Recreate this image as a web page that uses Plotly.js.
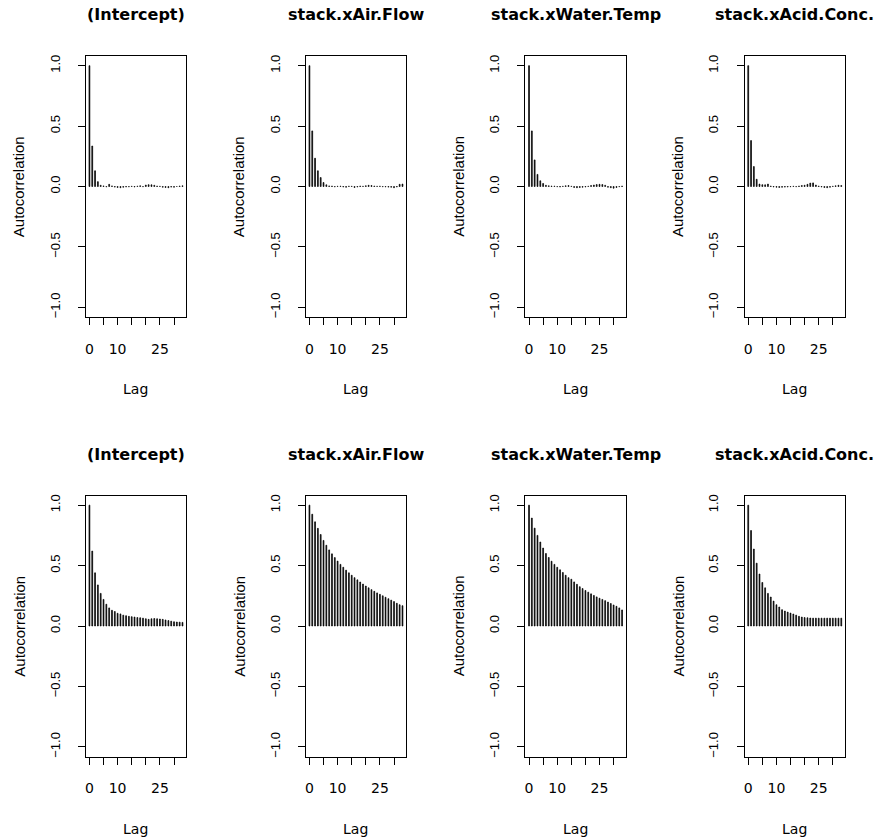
<!DOCTYPE html>
<html><head><meta charset="utf-8">
<script src="https://cdn.plot.ly/plotly-3.0.1.min.js"></script>
<style>body{margin:0;background:#fff}</style>
</head><body><div id="chart" style="width:887px;height:839px"></div>
<script>
const lags = [0,1,2,3,4,5,6,7,8,9,10,11,12,13,14,15,16,17,18,19,20,21,22,23,24,25,26,27,28,29,30,31,32,33];
const panelTitles = ["(Intercept)","stack.xAir.Flow","stack.xWater.Temp","stack.xAcid.Conc."];
const xTickVals = [0,5,10,15,20,25,30];
const xTickText = ["0","","10","","","25",""];
const yTickVals = [-1,-0.5,0,0.5,1];
const yTickText = ["\u22121.0","\u22120.5","0.0","0.5","1.0"];

// Row 1
const acfTopIntercept = [1.0,0.335,0.13,0.04,0.01,0.005,-0.003,0.018,0.005,-0.005,-0.008,-0.01,-0.006,-0.004,-0.003,0.002,-0.004,0.003,0.006,-0.002,0.012,0.015,0.014,0.01,0.004,0.002,-0.006,-0.008,-0.01,-0.005,-0.006,0.0,0.004,0.006];
const acfTopAirFlow = [1.0,0.46,0.234,0.13,0.074,0.033,0.014,0.005,0.004,-0.003,0.002,0.003,-0.004,-0.006,0.003,0.002,-0.008,-0.004,0.004,0.002,0.006,0.01,0.008,0.004,0.002,0.003,-0.002,-0.003,-0.005,-0.006,-0.01,-0.004,0.018,0.02];
const acfTopWaterTemp = [1.0,0.46,0.22,0.10,0.047,0.025,0.01,0.006,0.004,0.003,-0.002,-0.004,0.002,0.006,0.008,0.002,-0.008,-0.01,-0.008,-0.006,-0.004,0.002,0.008,0.012,0.016,0.018,0.016,0.01,-0.006,-0.01,-0.014,-0.008,-0.002,0.004];
const acfTopAcidConc = [1.0,0.38,0.165,0.06,0.02,0.015,0.014,0.02,0.004,-0.004,-0.006,-0.008,-0.006,-0.005,-0.004,-0.002,0.002,-0.002,0.004,0.008,0.01,0.018,0.028,0.03,0.012,0.004,-0.004,-0.008,-0.01,-0.006,0.002,0.006,0.01,0.008];
// Row 2
const acfBotIntercept = [1.0,0.62,0.44,0.34,0.27,0.22,0.18,0.15,0.13,0.12,0.105,0.1,0.09,0.085,0.08,0.077,0.074,0.07,0.068,0.065,0.06,0.055,0.06,0.062,0.06,0.058,0.055,0.05,0.045,0.04,0.035,0.033,0.032,0.03];
const acfBotAirFlow = [1.0,0.925,0.862,0.808,0.757,0.708,0.668,0.630,0.597,0.566,0.537,0.510,0.486,0.462,0.440,0.420,0.400,0.382,0.364,0.347,0.331,0.316,0.301,0.287,0.274,0.262,0.250,0.238,0.226,0.214,0.202,0.188,0.176,0.168];
const acfBotWaterTemp = [1.0,0.893,0.81,0.75,0.695,0.645,0.60,0.567,0.536,0.51,0.486,0.465,0.443,0.42,0.40,0.387,0.365,0.345,0.325,0.31,0.294,0.28,0.266,0.253,0.241,0.23,0.22,0.21,0.198,0.186,0.174,0.163,0.15,0.133];
const acfBotAcidConc = [1.0,0.79,0.637,0.52,0.43,0.36,0.316,0.27,0.24,0.206,0.176,0.157,0.135,0.124,0.115,0.107,0.099,0.09,0.08,0.074,0.07,0.068,0.066,0.065,0.065,0.065,0.065,0.065,0.065,0.065,0.065,0.065,0.065,0.065];

const series = [acfTopIntercept, acfTopAirFlow, acfTopWaterTemp, acfTopAcidConc,
                acfBotIntercept, acfBotAirFlow, acfBotWaterTemp, acfBotAcidConc];

const W = 887, H = 839;
const colLeft = [85.7, 305.7, 525.3, 744.5];
const boxW = 100.5;
const rowTop = [56, 495.5];
const boxH = 261;
const FONT = "Liberation Sans, Arial, Helvetica, sans-serif";
const WIDE = "DejaVu Sans, Liberation Sans, sans-serif";

const traces = [];
const layout = {
  width: W, height: H,
  margin: {l:0, r:0, t:0, b:0},
  paper_bgcolor: "#fff", plot_bgcolor: "#fff",
  showlegend: false,
  font: {family: FONT, size: 12, color: "#000"},
  annotations: [],
  bargap: 0
};

series.forEach((vals, i) => {
  const r = Math.floor(i / 4), c = i % 4;
  const n = i + 1;
  const xa = "x" + (n === 1 ? "" : n), ya = "y" + (n === 1 ? "" : n);
  traces.push({
    type: "bar", x: lags, y: vals, width: 0.3,
    marker: {color: "#000", line: {width: 0.7, color: "#000"}},
    xaxis: xa, yaxis: ya, hoverinfo: "x+y"
  });
  const x0 = colLeft[c] / W, x1 = (colLeft[c] + boxW) / W;
  const yTopPx = rowTop[r], yBotPx = rowTop[r] + boxH;
  const y0 = 1 - yBotPx / H, y1 = 1 - yTopPx / H;
  layout["xaxis" + (n === 1 ? "" : n)] = {
    domain: [x0, x1], anchor: ya, range: [-1.32, 34.32],
    showgrid: false, zeroline: false, showline: true, mirror: true,
    linecolor: "#000", linewidth: 1,
    ticks: "outside", ticklen: 7, tickwidth: 1, tickcolor: "#000",
    tickvals: xTickVals, ticktext: xTickText, ticklabelstandoff: 12,
    tickfont: {family: WIDE, size: 14, color: "#000"}, fixedrange: true
  };
  layout["yaxis" + (n === 1 ? "" : n)] = {
    domain: [y0, y1], anchor: xa, range: [-1.08, 1.08],
    showgrid: false, zeroline: false, showline: true, mirror: true,
    linecolor: "#000", linewidth: 1,
    ticks: "outside", ticklen: 7, tickwidth: 1, tickcolor: "#000",
    tickvals: yTickVals, ticktext: yTickText, tickangle: -90, ticklabelstandoff: 13,
    tickfont: {family: FONT, size: 13, color: "#000"}, fixedrange: true
  };
  const cx = (colLeft[c] + boxW / 2) / W;
  layout.annotations.push({
    text: "<b>" + panelTitles[c] + "</b>", xref: "paper", yref: "paper",
    x: cx, y: 1 - (yTopPx - 41) / H, xanchor: "center", yanchor: "middle",
    showarrow: false, font: {family: WIDE, size: 16, color: "#000"}
  });
  layout.annotations.push({
    text: "Lag", xref: "paper", yref: "paper",
    x: cx, y: 1 - (yBotPx + 72) / H, xanchor: "center", yanchor: "middle",
    showarrow: false, font: {family: WIDE, size: 14, color: "#000"}
  });
  layout.annotations.push({
    text: "Autocorrelation", xref: "paper", yref: "paper", textangle: -90,
    x: (colLeft[c] - 67) / W, y: 1 - (yTopPx + boxH / 2) / H, xanchor: "center", yanchor: "middle",
    showarrow: false, font: {family: FONT, size: 15, color: "#000"}
  });
});

Plotly.newPlot("chart", traces, layout, {displayModeBar: false, staticPlot: true});
</script>
</body></html>
